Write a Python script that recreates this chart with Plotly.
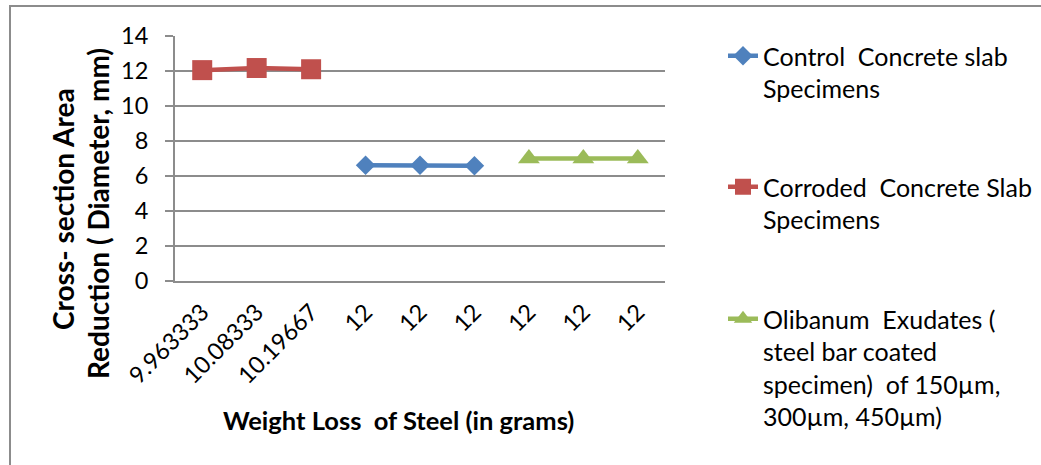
import plotly.graph_objects as go

# Category labels along the x axis (weight loss of steel, g)
weight_loss_labels = ["9.963333", "10.08333", "10.19667", "12", "12", "12", "12", "12", "12"]

# Diameter readings (mm) for each specimen group
corroded_x = [0, 1, 2]
corroded_y = [12.05, 12.17, 12.1]

control_x = [3, 4, 5]
control_y = [6.62, 6.62, 6.58]

olibanum_x = [6, 7, 8]
olibanum_y = [7.0, 7.0, 7.0]

FONT = "Lato"
GRID = "#8c8c8c"
NB = "\u00a0"

W, H = 1041, 465
L, R, T, B = 175, 665, 36, 281


def px_x(px):
    return (px - L) / (R - L)


def px_y(py):
    return (B - py) / (B - T)


fig = go.Figure()

fig.add_trace(go.Scatter(
    x=control_x, y=control_y, mode="lines+markers",
    name=f"Control{NB} Concrete slab<br>Specimens",
    line=dict(color="#4F81BD", width=4.5),
    marker=dict(symbol="diamond", size=15, color="#4F81BD"),
    legend="legend",
))
fig.add_trace(go.Scatter(
    x=corroded_x, y=corroded_y, mode="lines+markers",
    name=f"Corroded{NB} Concrete Slab<br>Specimens",
    line=dict(color="#C0504D", width=4.5),
    marker=dict(symbol="square", size=20, color="#C0504D"),
    legend="legend2",
))
fig.add_trace(go.Scatter(
    x=olibanum_x, y=olibanum_y, mode="lines+markers",
    name=(f"Olibanum{NB} Exudates (<br>steel bar coated<br>"
          f"specimen){NB} of 150µm,<br>300µm, 450µm)"),
    line=dict(color="#9BBB59", width=4.5),
    marker=dict(symbol="triangle-up", size=19, color="#9BBB59"),
    legend="legend3",
))

legend_common = dict(
    xref="container", yref="container", xanchor="left", yanchor="top",
    font=dict(family=FONT, size=25, color="#000000"),
    valign="top", bgcolor="rgba(0,0,0,0)", borderwidth=0,
)
lx = 723 / W
fig.update_layout(
    legend=dict(x=lx, y=1 - 33 / H, **legend_common),
    legend2=dict(x=lx, y=1 - 164 / H, **legend_common),
    legend3=dict(x=lx, y=1 - 296 / H, **legend_common),
)

fig.update_xaxes(
    range=[-0.5, 8.5],
    tickmode="array", tickvals=list(range(len(weight_loss_labels))),
    ticktext=weight_loss_labels, tickangle=-45,
    tickfont=dict(family=FONT, size=23.5, color="#000000"),
    showline=True, linecolor=GRID, linewidth=2,
    showgrid=False, zeroline=False, ticks="",
    ticklabelstandoff=6,
)
fig.update_yaxes(
    range=[0, 14], dtick=2,
    tickfont=dict(family=FONT, size=23.5, color="#000000"),
    showline=True, linecolor=GRID, linewidth=2,
    showgrid=True, gridcolor=GRID, gridwidth=2,
    zeroline=False, ticks="outside", ticklen=8, tickwidth=2, tickcolor=GRID,
    ticklabelstandoff=12,
)

# Axis titles
fig.add_annotation(
    text="<b>Weight Loss\u00a0 of Steel (in grams)</b>",
    xref="paper", yref="paper", x=px_x(398), y=px_y(420),
    showarrow=False, font=dict(family=FONT, size=25.5, color="#000000"),
    xanchor="center", yanchor="middle",
)
fig.add_annotation(
    text="<b>Cross- section Area</b>",
    xref="paper", yref="paper", x=px_x(63), y=px_y(209), textangle=-90,
    showarrow=False, font=dict(family=FONT, size=28, color="#000000"),
    xanchor="center", yanchor="middle",
)
fig.add_annotation(
    text="<b>Reduction ( Diameter, mm)</b>",
    xref="paper", yref="paper", x=px_x(98), y=px_y(214), textangle=-90,
    showarrow=False, font=dict(family=FONT, size=28, color="#000000"),
    xanchor="center", yanchor="middle",
)

# Chart-area frame
fig.add_shape(
    type="rect", xref="paper", yref="paper",
    x0=px_x(10), y0=-1.0, x1=2.0, y1=px_y(6),
    line=dict(color=GRID, width=2), fillcolor="rgba(0,0,0,0)", layer="below",
)

fig.update_layout(
    width=W, height=H,
    margin=dict(l=L, r=W - R, t=T, b=H - B),
    paper_bgcolor="#FFFFFF", plot_bgcolor="#FFFFFF",
    font=dict(family=FONT, color="#000000"),
    showlegend=True,
)

fig.write_html("out.html")
